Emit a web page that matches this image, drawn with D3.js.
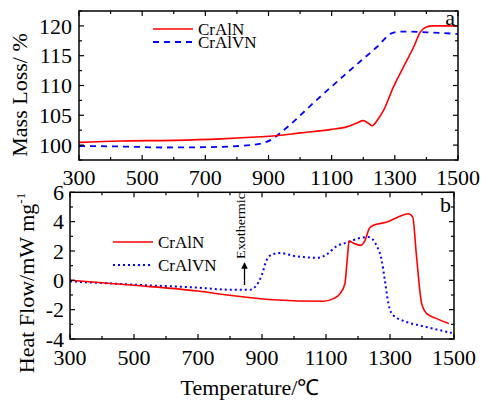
<!DOCTYPE html>
<html>
<head>
<meta charset="utf-8">
<script src="https://cdn.jsdelivr.net/npm/d3@7"></script>
<style>
  html, body { margin: 0; padding: 0; background: #fff; }
  svg { display: block; font-family: "Liberation Serif", "Times New Roman", serif; }
</style>
</head>
<body>
<svg id="chart" width="481" height="401"></svg>
<script>
// ---- thermogravimetric curves (mass, %) ----
const tgaTempCrAlN = [300, 430, 600, 750, 875, 930, 1000, 1095, 1150, 1180, 1200, 1215, 1228, 1245, 1265, 1296, 1333, 1360, 1381, 1400, 1420, 1500];
const tgaMassCrAlN = [100.45, 100.7, 100.8, 101.05, 101.4, 101.6, 102.05, 102.6, 103.1, 103.7, 104.1, 103.7, 103.25, 104.2, 105.9, 109.8, 113.7, 116.5, 119.0, 119.8, 120.0, 120.0];
const tgaTempCrAlVN = [300, 450, 566, 700, 842, 880, 906, 948, 1053, 1159, 1244, 1291, 1320, 1370, 1412, 1500];
const tgaMassCrAlVN = [99.85, 99.75, 99.6, 99.65, 100.0, 100.3, 100.84, 102.5, 107.6, 112.6, 116.5, 118.8, 119.05, 119.0, 118.9, 118.65];

// ---- DSC curves (heat flow, mW/mg) ----
const dscTempCrAlN = [300, 500, 700, 800, 935, 1092, 1123, 1144, 1159, 1167, 1172, 1185, 1208, 1222, 1235, 1248, 1290, 1321, 1357, 1371, 1383, 1399, 1415, 1446, 1484];
const dscHeatCrAlN = [0, -0.34, -0.73, -1.02, -1.32, -1.43, -1.25, -0.91, -0.23, 1.59, 2.68, 2.54, 2.38, 2.72, 3.52, 3.75, 3.97, 4.27, 4.54, 4.31, 1.59, -1.59, -2.27, -2.61, -2.95];
const dscTempCrAlVN = [300, 500, 700, 800, 862, 883, 899, 914, 930, 956, 1008, 1076, 1102, 1133, 1170, 1206, 1232, 1258, 1274, 1284, 1295, 1310, 1352, 1404, 1493];
const dscHeatCrAlVN = [-0.07, -0.3, -0.5, -0.64, -0.64, -0.34, 0.34, 1.36, 1.75, 1.86, 1.63, 1.54, 1.77, 2.32, 2.61, 2.88, 2.95, 2.38, 1.36, 0, -1.59, -2.38, -2.84, -3.13, -3.59];

// ---- tick values and labels ----
const tempTicks = [300, 500, 700, 900, 1100, 1300, 1500];
const tempMinor = [400, 600, 800, 1000, 1200, 1400];
const massTicks = [100, 105, 110, 115, 120];
const massMinor = [97.5, 102.5, 107.5, 112.5, 117.5, 122.5];
const heatTicks = [-4, -2, 0, 2, 4, 6];
const heatLabels = ["-4", "-2", "0", "2", "4", "6"];
const heatMinor = [-3, -1, 1, 3, 5];
const seriesNames = ["CrAlN", "CrAlVN"];

const svg = d3.select("#chart");
const RED = "#ff0000", BLUE = "#0000ff";

// scales for the two stacked panels
const xTop = d3.scaleLinear().domain([300, 1500]).range([79, 458]);
const yTop = d3.scaleLinear().domain([97.5, 122.5]).range([160, 11]);
const xBot = d3.scaleLinear().domain([300, 1500]).range([70, 454]);
const yBot = d3.scaleLinear().domain([-4, 6]).range([339, 192.3]);

const zip = (xs, ys) => xs.map((t, i) => [t, ys[i]]);

// inward ticks on all four sides of a panel frame
function drawFrame(x, y, xMajor, xMinor, yMajor, yMinor) {
  const g = svg.append("g");
  const [x0, x1] = x.range();
  const [y0, y1] = y.range();
  const ticks = [];
  xMajor.forEach(v => ticks.push({ x: x(v), y: y0, dx: 0, dy: -5 }, { x: x(v), y: y1, dx: 0, dy: 5 }));
  xMinor.forEach(v => ticks.push({ x: x(v), y: y0, dx: 0, dy: -3 }, { x: x(v), y: y1, dx: 0, dy: 3 }));
  yMajor.forEach(v => ticks.push({ x: x0, y: y(v), dx: 5, dy: 0 }, { x: x1, y: y(v), dx: -5, dy: 0 }));
  yMinor.forEach(v => ticks.push({ x: x0, y: y(v), dx: 3, dy: 0 }, { x: x1, y: y(v), dx: -3, dy: 0 }));
  g.selectAll("line.tick").data(ticks).join("line")
    .attr("x1", d => d.x).attr("y1", d => d.y)
    .attr("x2", d => d.x + d.dx).attr("y2", d => d.y + d.dy)
    .attr("stroke", "#000").attr("stroke-width", 1.2);
  g.append("rect")
    .attr("x", x0).attr("y", y1).attr("width", x1 - x0).attr("height", y0 - y1)
    .attr("fill", "none").attr("stroke", "#000").attr("stroke-width", 1.5);
}

function tickLabels(x, y, xVals, yVals, yText, xBase, yRight) {
  svg.append("g").selectAll("text").data(xVals).join("text")
    .attr("x", d => x(d)).attr("y", xBase)
    .attr("text-anchor", "middle").attr("font-size", 22)
    .text(d => d);
  svg.append("g").selectAll("text").data(yVals).join("text")
    .attr("x", yRight).attr("y", d => y(d)).attr("dy", "0.35em")
    .attr("text-anchor", "end").attr("font-size", 22)
    .text((d, i) => yText ? yText[i] : d);
}

// ---------------- panel a: TGA ----------------
const lineTop = d3.line().x(d => xTop(d[0])).y(d => yTop(d[1])).curve(d3.curveMonotoneX);
svg.append("path").datum(zip(tgaTempCrAlVN, tgaMassCrAlVN))
  .attr("d", lineTop).attr("fill", "none").attr("stroke", BLUE)
  .attr("stroke-width", 1.8).attr("stroke-dasharray", "6,5");
svg.append("path").datum(zip(tgaTempCrAlN, tgaMassCrAlN))
  .attr("d", lineTop).attr("fill", "none").attr("stroke", RED).attr("stroke-width", 1.6);
drawFrame(xTop, yTop, tempTicks, tempMinor, massTicks, massMinor);
tickLabels(xTop, yTop, tempTicks, massTicks, null, 185, 72);

svg.append("text").attr("transform", "translate(27,95) rotate(-90)")
  .attr("text-anchor", "middle").attr("font-size", 22).text("Mass Loss/ %");
svg.append("text").attr("x", 455).attr("y", 25).attr("text-anchor", "end")
  .attr("font-size", 22).text("a");

// legend a
const legA = [
  { name: seriesNames[0], color: RED, dash: null, w: 1.6, y: 29 },
  { name: seriesNames[1], color: BLUE, dash: "6,5", w: 1.8, y: 42 }
];
legA.forEach(d => {
  svg.append("line").attr("x1", 153).attr("x2", 193).attr("y1", d.y).attr("y2", d.y)
    .attr("stroke", d.color).attr("stroke-width", d.w).attr("stroke-dasharray", d.dash);
  svg.append("text").attr("x", 198).attr("y", d.y + 6).attr("font-size", 17).text(d.name);
});

// ---------------- panel b: DSC ----------------
const lineBot = d3.line().x(d => xBot(d[0])).y(d => yBot(d[1])).curve(d3.curveMonotoneX);
svg.append("path").datum(zip(dscTempCrAlVN, dscHeatCrAlVN))
  .attr("d", lineBot).attr("fill", "none").attr("stroke", BLUE)
  .attr("stroke-width", 2).attr("stroke-dasharray", "2,3");
svg.append("path").datum(zip(dscTempCrAlN, dscHeatCrAlN))
  .attr("d", lineBot).attr("fill", "none").attr("stroke", RED).attr("stroke-width", 1.6);
drawFrame(xBot, yBot, tempTicks, tempMinor, heatTicks, heatMinor);
tickLabels(xBot, yBot, tempTicks, heatTicks, heatLabels, 365, 64);

const hf = svg.append("text").attr("transform", "translate(34,283) rotate(-90)")
  .attr("text-anchor", "middle").attr("font-size", 22);
hf.append("tspan").text("Heat Flow/mW mg");
hf.append("tspan").attr("font-size", 13).attr("dy", -9).text("-1");

svg.append("text").attr("x", 250).attr("y", 395).attr("text-anchor", "middle")
  .attr("font-size", 22).text("Temperature/℃");
svg.append("text").attr("x", 451).attr("y", 212).attr("text-anchor", "end")
  .attr("font-size", 22).text("b");

// legend b
const legB = [
  { name: seriesNames[0], color: RED, dash: null, w: 1.6, y: 242 },
  { name: seriesNames[1], color: BLUE, dash: "2,3", w: 2, y: 265 }
];
legB.forEach(d => {
  svg.append("line").attr("x1", 113).attr("x2", 153).attr("y1", d.y).attr("y2", d.y)
    .attr("stroke", d.color).attr("stroke-width", d.w).attr("stroke-dasharray", d.dash);
  svg.append("text").attr("x", 158).attr("y", d.y + 6).attr("font-size", 17).text(d.name);
});

// exothermic direction marker
svg.append("defs").append("marker").attr("id", "arrowHead")
  .attr("viewBox", "0 0 10 10").attr("refX", 9).attr("refY", 5)
  .attr("markerWidth", 5).attr("markerHeight", 5).attr("orient", "auto")
  .append("path").attr("d", "M0,0 L10,5 L0,10 Z").attr("fill", "#000");
svg.append("line").attr("x1", 244.5).attr("y1", 285).attr("x2", 244.5).attr("y2", 263)
  .attr("stroke", "#000").attr("stroke-width", 1.3).attr("marker-end", "url(#arrowHead)");
svg.append("text").attr("transform", "translate(245,226) rotate(-90)")
  .attr("text-anchor", "middle").attr("font-size", 12)
  .attr("textLength", 66).attr("lengthAdjust", "spacingAndGlyphs").text("Exothermic");
</script>
</body>
</html>
